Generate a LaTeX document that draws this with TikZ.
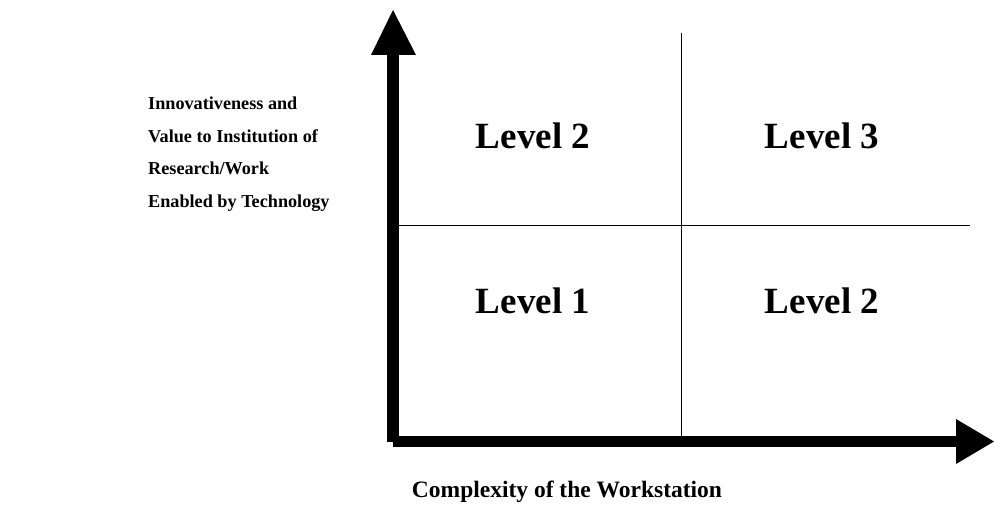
\documentclass[tikz,border=0pt]{standalone}
\usepackage{fontspec}
\setmainfont{Liberation Serif}
\usetikzlibrary{positioning}

\tikzset{
  axis/.style={line width=12pt, line cap=butt},
  grid line/.style={line width=1.5pt},
  level/.style={font=\bfseries\fontsize{37}{44}\selectfont, anchor=base, inner sep=0pt},
  axis label/.style={font=\bfseries\fontsize{18.2}{32.7}\selectfont, inner sep=0pt}
}

\begin{document}
\begin{tikzpicture}[x=1pt,y=-1pt]
\useasboundingbox (0,0) rectangle (994,513);
\coordinate (o) at (393,441.5);
\coordinate (ybase) at (393,55);
\coordinate (ytip) at (393,10);
\coordinate (xbase) at (956,441.5);
\coordinate (xtip) at (994,441.5);
 % the two axes with their heads
 \draw[axis] (393,442) -- (ybase);
 \draw[axis, line width=11pt] (o) -- (xbase);
 \fill (371,55) -- (ytip) -- (416,55) -- cycle;
 \fill (956,419) -- (xtip) -- (956,464) -- cycle;
 % quadrant lines
\coordinate (vtop) at (681.5,33);
\coordinate (vbot) at (681.5,436);
\coordinate (hleft) at (399,225.5);
\coordinate (hright) at (970,225.5);
 \draw[grid line] (vtop) -- (vbot);
 \draw[grid line] (hleft) -- (hright);
 % quadrants
 \node[level] (tl) at (533,149) {Level 2};
 \node[level] (tr) at (822,149) {Level 3};
 \node[level] (bl) at (533,313) {Level 1};
 \node[level] (br) at (822,313) {Level 2};
 % axis labels (base of a multi-line node is its last line)
 \node[axis label, align=left, anchor=base west] (ylab) at (148,207.5)
   {Innovativeness and\\Value to Institution of\\Research/Work\\Enabled by Technology};
 \node[axis label, font=\bfseries\fontsize{23.5}{28}\selectfont, anchor=base] (xlab) at (567,497)
   {Complexity of the Workstation};
\end{tikzpicture}
\end{document}
